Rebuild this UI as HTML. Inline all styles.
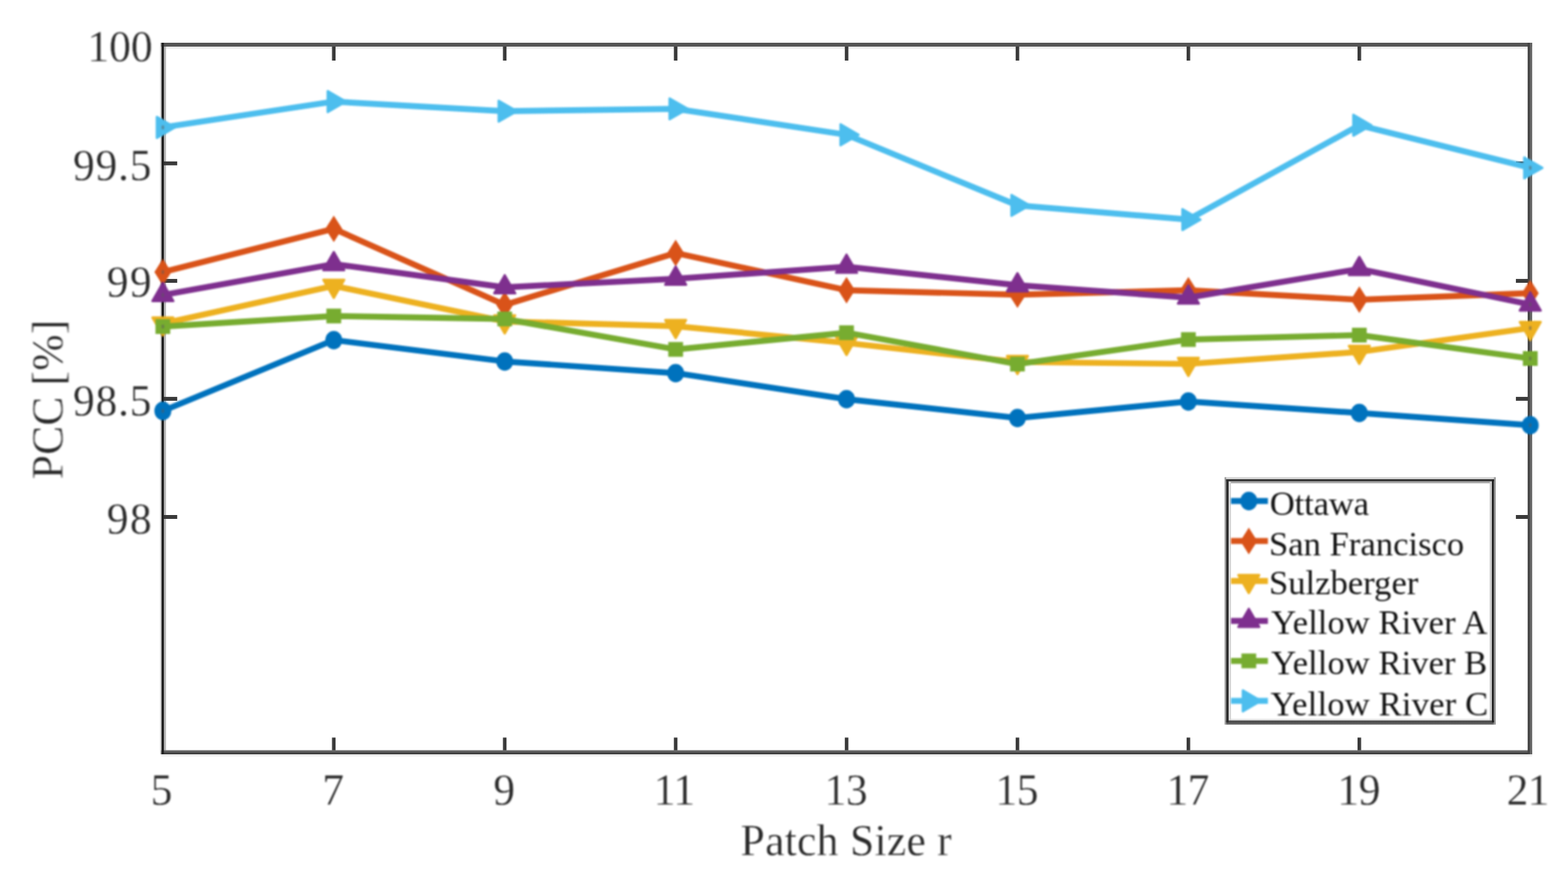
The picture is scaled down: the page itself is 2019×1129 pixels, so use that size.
<!DOCTYPE html>
<html lang="en">
<head>
<meta charset="utf-8">
<title>PCC versus Patch Size r</title>
<style>
html,body{margin:0;padding:0;background:#fff;}
body{width:2019px;height:1129px;overflow:hidden;}
svg{display:block;}
text{font-family:"Liberation Serif","DejaVu Serif",serif;}
.tick{font-size:56px;fill:#2a2a2a;stroke:#fff;stroke-width:0.3px;}
.lab{font-size:56px;fill:#2a2a2a;stroke:#fff;stroke-width:0.3px;}
.leg{font-size:44.6px;fill:#111;}
</style>
</head>
<body>
<svg width="2019" height="1129" viewBox="0 0 2019 1129">
<defs>
<linearGradient id="gb" x1="0" y1="0" x2="0" y2="1"><stop offset="0" stop-color="#7a7a7a"/><stop offset="1" stop-color="#303030"/></linearGradient>
<linearGradient id="gr" x1="0" y1="0" x2="1" y2="0"><stop offset="0" stop-color="#414141"/><stop offset="0.45" stop-color="#484848"/><stop offset="0.6" stop-color="#666666"/><stop offset="1" stop-color="#6a6a6a"/></linearGradient>
<linearGradient id="gl" x1="0" y1="0" x2="0" y2="1"><stop offset="0" stop-color="#404040"/><stop offset="1" stop-color="#686868"/></linearGradient>
</defs>
<rect x="0" y="0" width="2019" height="1129" fill="#ffffff"/>

<g id="axes" style="filter:blur(0.45px)">
<rect x="211" y="60" width="1756" height="2.6" fill="#e9e9e9"/>
<rect x="207.6" y="971" width="1765.3" height="2.6" fill="#ececec"/>
<rect x="206.2" y="55" width="2" height="916" fill="#cccccc"/>
<rect x="211.1" y="58" width="2.6" height="909" fill="#b4b4b4"/>
<rect x="427.5" y="949.5" width="4.6" height="19.0" fill="#3a3a3a"/>
<rect x="427.5" y="58.0" width="4.6" height="20.0" fill="#3a3a3a"/>
<rect x="647.6" y="949.5" width="4.6" height="19.0" fill="#3a3a3a"/>
<rect x="647.6" y="58.0" width="4.6" height="20.0" fill="#3a3a3a"/>
<rect x="867.7" y="949.5" width="4.6" height="19.0" fill="#3a3a3a"/>
<rect x="867.7" y="58.0" width="4.6" height="20.0" fill="#3a3a3a"/>
<rect x="1087.8" y="949.5" width="4.6" height="19.0" fill="#3a3a3a"/>
<rect x="1087.8" y="58.0" width="4.6" height="20.0" fill="#3a3a3a"/>
<rect x="1307.8" y="949.5" width="4.6" height="19.0" fill="#3a3a3a"/>
<rect x="1307.8" y="58.0" width="4.6" height="20.0" fill="#3a3a3a"/>
<rect x="1527.9" y="949.5" width="4.6" height="19.0" fill="#3a3a3a"/>
<rect x="1527.9" y="58.0" width="4.6" height="20.0" fill="#3a3a3a"/>
<rect x="1748.0" y="949.5" width="4.6" height="19.0" fill="#3a3a3a"/>
<rect x="1748.0" y="58.0" width="4.6" height="20.0" fill="#3a3a3a"/>
<rect x="209.7" y="207.8" width="18.5" height="5" fill="#3a3a3a"/>
<rect x="1951.9" y="207.8" width="18.5" height="5" fill="#3a3a3a"/>
<rect x="209.7" y="359.1" width="18.5" height="5" fill="#3a3a3a"/>
<rect x="1951.9" y="359.1" width="18.5" height="5" fill="#3a3a3a"/>
<rect x="209.7" y="510.9" width="18.5" height="5" fill="#3a3a3a"/>
<rect x="1951.9" y="510.9" width="18.5" height="5" fill="#3a3a3a"/>
<rect x="209.7" y="663.0" width="18.5" height="5" fill="#3a3a3a"/>
<rect x="1951.9" y="663.0" width="18.5" height="5" fill="#3a3a3a"/>
<rect x="207.6" y="55" width="1765.3" height="5" fill="#555555"/>
<rect x="207.6" y="965.7" width="1765.3" height="5.3" fill="url(#gb)"/>
<rect x="208" y="55" width="3.1" height="916" fill="#222222"/>
<rect x="1967.1" y="55" width="5.8" height="916" fill="url(#gr)"/>
</g>
<g id="ticklabels" style="filter:blur(0.9px)">
<text class="tick" x="193.9" y="1036.2">5</text>
<text class="tick" x="415.0" y="1036.2">7</text>
<text class="tick" x="635.3" y="1036.2">9</text>
<text class="tick" x="841.7" y="1036.2" style="letter-spacing:-0.60px">11</text>
<text class="tick" x="1061.8" y="1036.2" style="letter-spacing:-0.60px">13</text>
<text class="tick" x="1281.8" y="1036.2" style="letter-spacing:-0.60px">15</text>
<text class="tick" x="1501.9" y="1036.2" style="letter-spacing:-0.60px">17</text>
<text class="tick" x="1722.0" y="1036.2" style="letter-spacing:-0.60px">19</text>
<text class="tick" x="1940.1" y="1036.2" style="letter-spacing:-1.00px">21</text>
<text class="tick" x="112.4" y="78.6">100</text>
<text class="tick" x="93.9" y="231.6" style="letter-spacing:1.00px">99.5</text>
<text class="tick" x="137.5" y="382.2" style="letter-spacing:1.70px">99</text>
<text class="tick" x="93.9" y="535.0" style="letter-spacing:1.00px">98.5</text>
<text class="tick" x="137.5" y="687.3" style="letter-spacing:1.70px">98</text>
</g>
<g id="axislabels" style="filter:blur(0.9px)">
<text class="lab" x="953.6" y="1101.3" style="letter-spacing:0.40px">Patch Size r</text>
<text class="lab" transform="translate(80.5,617.0) rotate(-90)" style="letter-spacing:0.25px">PCC [%]</text>
</g>
<g id="data" stroke-linejoin="round" stroke-linecap="butt" style="filter:blur(0.9px)">
<polyline points="209.7,529.0 429.8,437.8 649.9,465.3 870.0,480.3 1090.0,513.9 1310.1,538.1 1530.2,516.8 1750.3,531.7 1970.4,547.4" fill="none" stroke="#0072BD" stroke-width="7.7"/>
<ellipse cx="209.7" cy="529.0" rx="10.9" ry="11.9" fill="#0072BD"/>
<rect x="208.1" y="526.6" width="3.2" height="4.8" fill="#5a5a5a" opacity="0.5"/>
<ellipse cx="429.8" cy="437.8" rx="10.9" ry="11.9" fill="#0072BD"/>
<ellipse cx="649.9" cy="465.3" rx="10.9" ry="11.9" fill="#0072BD"/>
<ellipse cx="870.0" cy="480.3" rx="10.9" ry="11.9" fill="#0072BD"/>
<ellipse cx="1090.0" cy="513.9" rx="10.9" ry="11.9" fill="#0072BD"/>
<ellipse cx="1310.1" cy="538.1" rx="10.9" ry="11.9" fill="#0072BD"/>
<ellipse cx="1530.2" cy="516.8" rx="10.9" ry="11.9" fill="#0072BD"/>
<ellipse cx="1750.3" cy="531.7" rx="10.9" ry="11.9" fill="#0072BD"/>
<ellipse cx="1970.4" cy="547.4" rx="10.9" ry="11.9" fill="#0072BD"/>
<rect x="1968.8" y="545.0" width="3.2" height="4.8" fill="#5a5a5a" opacity="0.5"/>
<polyline points="209.7,350.2 429.8,294.6 649.9,392.5 870.0,325.7 1090.0,373.6 1310.1,379.4 1530.2,373.6 1750.3,385.8 1970.4,377.4" fill="none" stroke="#D95319" stroke-width="7.7"/>
<polygon points="209.7,333.0 220.6,350.2 209.7,367.4 198.8,350.2" fill="#D95319"/>
<rect x="208.1" y="347.8" width="3.2" height="4.8" fill="#5a5a5a" opacity="0.5"/>
<polygon points="429.8,277.4 440.7,294.6 429.8,311.8 418.9,294.6" fill="#D95319"/>
<polygon points="649.9,375.3 660.8,392.5 649.9,409.7 639.0,392.5" fill="#D95319"/>
<polygon points="870.0,308.5 880.9,325.7 870.0,342.9 859.1,325.7" fill="#D95319"/>
<polygon points="1090.0,356.4 1101.0,373.6 1090.0,390.8 1079.1,373.6" fill="#D95319"/>
<polygon points="1310.1,362.2 1321.0,379.4 1310.1,396.6 1299.2,379.4" fill="#D95319"/>
<polygon points="1530.2,356.4 1541.1,373.6 1530.2,390.8 1519.3,373.6" fill="#D95319"/>
<polygon points="1750.3,368.6 1761.2,385.8 1750.3,403.0 1739.4,385.8" fill="#D95319"/>
<polygon points="1970.4,360.2 1981.3,377.4 1970.4,394.6 1959.5,377.4" fill="#D95319"/>
<rect x="1968.8" y="375.0" width="3.2" height="4.8" fill="#5a5a5a" opacity="0.5"/>
<polyline points="209.7,416.5 429.8,368.0 649.9,413.8 870.0,419.8 1090.0,441.5 1310.1,466.0 1530.2,468.5 1750.3,453.0 1970.4,422.3" fill="none" stroke="#EDB120" stroke-width="7.7"/>
<polygon points="209.7,432.0 223.1,408.8 196.3,408.8" fill="#EDB120" stroke="#EDB120" stroke-width="3.0" stroke-linejoin="round"/>
<rect x="208.1" y="414.1" width="3.2" height="4.8" fill="#5a5a5a" opacity="0.5"/>
<polygon points="429.8,383.5 443.2,360.3 416.4,360.3" fill="#EDB120" stroke="#EDB120" stroke-width="3.0" stroke-linejoin="round"/>
<polygon points="649.9,429.3 663.3,406.1 636.5,406.1" fill="#EDB120" stroke="#EDB120" stroke-width="3.0" stroke-linejoin="round"/>
<polygon points="870.0,435.3 883.4,412.1 856.6,412.1" fill="#EDB120" stroke="#EDB120" stroke-width="3.0" stroke-linejoin="round"/>
<polygon points="1090.0,457.0 1103.5,433.8 1076.6,433.8" fill="#EDB120" stroke="#EDB120" stroke-width="3.0" stroke-linejoin="round"/>
<polygon points="1310.1,481.5 1323.5,458.3 1296.7,458.3" fill="#EDB120" stroke="#EDB120" stroke-width="3.0" stroke-linejoin="round"/>
<polygon points="1530.2,484.0 1543.6,460.8 1516.8,460.8" fill="#EDB120" stroke="#EDB120" stroke-width="3.0" stroke-linejoin="round"/>
<polygon points="1750.3,468.5 1763.7,445.3 1736.9,445.3" fill="#EDB120" stroke="#EDB120" stroke-width="3.0" stroke-linejoin="round"/>
<polygon points="1970.4,437.8 1983.8,414.6 1957.0,414.6" fill="#EDB120" stroke="#EDB120" stroke-width="3.0" stroke-linejoin="round"/>
<rect x="1968.8" y="419.9" width="3.2" height="4.8" fill="#5a5a5a" opacity="0.5"/>
<polyline points="209.7,379.8 429.8,340.0 649.9,369.9 870.0,358.8 1090.0,343.4 1310.1,367.2 1530.2,383.1 1750.3,346.2 1970.4,392.0" fill="none" stroke="#7E2F8E" stroke-width="7.7"/>
<polygon points="209.7,364.3 223.1,387.5 196.3,387.5" fill="#7E2F8E" stroke="#7E2F8E" stroke-width="3.0" stroke-linejoin="round"/>
<rect x="208.1" y="377.4" width="3.2" height="4.8" fill="#5a5a5a" opacity="0.5"/>
<polygon points="429.8,324.5 443.2,347.7 416.4,347.7" fill="#7E2F8E" stroke="#7E2F8E" stroke-width="3.0" stroke-linejoin="round"/>
<polygon points="649.9,354.4 663.3,377.6 636.5,377.6" fill="#7E2F8E" stroke="#7E2F8E" stroke-width="3.0" stroke-linejoin="round"/>
<polygon points="870.0,343.3 883.4,366.5 856.6,366.5" fill="#7E2F8E" stroke="#7E2F8E" stroke-width="3.0" stroke-linejoin="round"/>
<polygon points="1090.0,327.9 1103.5,351.1 1076.6,351.1" fill="#7E2F8E" stroke="#7E2F8E" stroke-width="3.0" stroke-linejoin="round"/>
<polygon points="1310.1,351.7 1323.5,374.9 1296.7,374.9" fill="#7E2F8E" stroke="#7E2F8E" stroke-width="3.0" stroke-linejoin="round"/>
<polygon points="1530.2,367.6 1543.6,390.8 1516.8,390.8" fill="#7E2F8E" stroke="#7E2F8E" stroke-width="3.0" stroke-linejoin="round"/>
<polygon points="1750.3,330.7 1763.7,353.9 1736.9,353.9" fill="#7E2F8E" stroke="#7E2F8E" stroke-width="3.0" stroke-linejoin="round"/>
<polygon points="1970.4,376.5 1983.8,399.7 1957.0,399.7" fill="#7E2F8E" stroke="#7E2F8E" stroke-width="3.0" stroke-linejoin="round"/>
<rect x="1968.8" y="389.6" width="3.2" height="4.8" fill="#5a5a5a" opacity="0.5"/>
<polyline points="209.7,420.4 429.8,406.8 649.9,410.6 870.0,449.8 1090.0,428.3 1310.1,468.7 1530.2,437.1 1750.3,431.4 1970.4,461.5" fill="none" stroke="#77AC30" stroke-width="7.7"/>
<rect x="200.2" y="410.9" width="19.0" height="19.0" fill="#77AC30"/>
<rect x="208.1" y="418.0" width="3.2" height="4.8" fill="#5a5a5a" opacity="0.5"/>
<rect x="420.3" y="397.3" width="19.0" height="19.0" fill="#77AC30"/>
<rect x="640.4" y="401.1" width="19.0" height="19.0" fill="#77AC30"/>
<rect x="860.5" y="440.3" width="19.0" height="19.0" fill="#77AC30"/>
<rect x="1080.5" y="418.8" width="19.0" height="19.0" fill="#77AC30"/>
<rect x="1300.6" y="459.2" width="19.0" height="19.0" fill="#77AC30"/>
<rect x="1520.7" y="427.6" width="19.0" height="19.0" fill="#77AC30"/>
<rect x="1740.8" y="421.9" width="19.0" height="19.0" fill="#77AC30"/>
<rect x="1960.9" y="452.0" width="19.0" height="19.0" fill="#77AC30"/>
<rect x="1968.8" y="459.1" width="3.2" height="4.8" fill="#5a5a5a" opacity="0.5"/>
<polyline points="209.7,164.0 429.8,130.8 649.9,143.1 870.0,140.1 1090.0,173.5 1310.1,264.4 1530.2,282.7 1750.3,161.2 1970.4,216.1" fill="none" stroke="#4DBEEE" stroke-width="7.7"/>
<polygon points="225.2,164.0 202.0,150.6 202.0,177.4" fill="#4DBEEE" stroke="#4DBEEE" stroke-width="3.0" stroke-linejoin="round"/>
<rect x="208.1" y="161.6" width="3.2" height="4.8" fill="#5a5a5a" opacity="0.5"/>
<polygon points="445.3,130.8 422.0,117.4 422.0,144.2" fill="#4DBEEE" stroke="#4DBEEE" stroke-width="3.0" stroke-linejoin="round"/>
<polygon points="665.4,143.1 642.1,129.7 642.1,156.5" fill="#4DBEEE" stroke="#4DBEEE" stroke-width="3.0" stroke-linejoin="round"/>
<polygon points="885.4,140.1 862.2,126.7 862.2,153.5" fill="#4DBEEE" stroke="#4DBEEE" stroke-width="3.0" stroke-linejoin="round"/>
<polygon points="1105.5,173.5 1082.3,160.1 1082.3,186.9" fill="#4DBEEE" stroke="#4DBEEE" stroke-width="3.0" stroke-linejoin="round"/>
<polygon points="1325.6,264.4 1302.4,251.0 1302.4,277.8" fill="#4DBEEE" stroke="#4DBEEE" stroke-width="3.0" stroke-linejoin="round"/>
<polygon points="1545.7,282.7 1522.5,269.3 1522.5,296.1" fill="#4DBEEE" stroke="#4DBEEE" stroke-width="3.0" stroke-linejoin="round"/>
<polygon points="1765.8,161.2 1742.6,147.8 1742.6,174.6" fill="#4DBEEE" stroke="#4DBEEE" stroke-width="3.0" stroke-linejoin="round"/>
<polygon points="1985.9,216.1 1962.7,202.7 1962.7,229.5" fill="#4DBEEE" stroke="#4DBEEE" stroke-width="3.0" stroke-linejoin="round"/>
<rect x="1968.8" y="213.7" width="3.2" height="4.8" fill="#5a5a5a" opacity="0.5"/>
</g>
<g id="legendbox">
<rect x="1576.8" y="614.4" width="349.2" height="318.4" fill="#ffffff"/>
<rect x="1576.8" y="614.4" width="349.2" height="2.6" fill="#cfcfcf"/>
<rect x="1582" y="619.6" width="339" height="2.6" fill="#a8a8a8"/>
<rect x="1582" y="925.3" width="339" height="2.2" fill="#e6e6e6"/>
<rect x="1576.8" y="614.4" width="2" height="318.4" fill="#9a9a9a"/>
<rect x="1582" y="619.6" width="3.1" height="308" fill="#d6d6d6"/>
<rect x="1918.2" y="619.6" width="2.8" height="308" fill="#cacaca"/>
<rect x="1923.6" y="614.4" width="2.4" height="318.4" fill="#9a9a9a"/>
<rect x="1578.8" y="617" width="344.9" height="2.6" fill="#2e2e2e"/>
<rect x="1578.8" y="927.5" width="344.9" height="5.3" fill="url(#gl)"/>
<rect x="1578.8" y="617" width="3.2" height="313" fill="#2e2e2e"/>
<rect x="1921" y="617" width="2.7" height="313" fill="#222222"/>
</g>
<g id="legend" style="filter:blur(0.9px)">
<rect x="1585" y="641.1" width="47.6" height="7.7" fill="#0072BD"/>
<ellipse cx="1608.0" cy="645.0" rx="10.9" ry="11.9" fill="#0072BD"/>
<text class="leg" x="1634.9" y="662.6" style="letter-spacing:-0.16px">Ottawa</text>
<rect x="1585" y="692.6" width="47.6" height="7.7" fill="#D95319"/>
<polygon points="1608.0,679.3 1618.9,696.5 1608.0,713.7 1597.1,696.5" fill="#D95319"/>
<text class="leg" x="1633.9" y="714.6" style="letter-spacing:0.01px">San Francisco</text>
<rect x="1585" y="744.1" width="47.6" height="7.7" fill="#EDB120"/>
<polygon points="1608.0,763.4 1621.4,740.2 1594.6,740.2" fill="#EDB120" stroke="#EDB120" stroke-width="3.0" stroke-linejoin="round"/>
<text class="leg" x="1633.9" y="765.2" style="letter-spacing:0.01px">Sulzberger</text>
<rect x="1585" y="795.5" width="47.6" height="7.7" fill="#7E2F8E"/>
<polygon points="1608.0,783.9 1621.4,807.1 1594.6,807.1" fill="#7E2F8E" stroke="#7E2F8E" stroke-width="3.0" stroke-linejoin="round"/>
<text class="leg" x="1636.8" y="816.4" style="letter-spacing:0.04px">Yellow River A</text>
<rect x="1585" y="847.0" width="47.6" height="7.7" fill="#77AC30"/>
<rect x="1598.5" y="841.3" width="19.0" height="19.0" fill="#77AC30"/>
<text class="leg" x="1636.8" y="867.9" style="letter-spacing:0.02px">Yellow River B</text>
<rect x="1585" y="898.4" width="47.6" height="7.7" fill="#4DBEEE"/>
<polygon points="1623.5,902.3 1600.3,888.9 1600.3,915.7" fill="#4DBEEE" stroke="#4DBEEE" stroke-width="3.0" stroke-linejoin="round"/>
<text class="leg" x="1635.9" y="920.8" style="letter-spacing:0.19px">Yellow River C</text>
</g>
</svg>
</body>
</html>
